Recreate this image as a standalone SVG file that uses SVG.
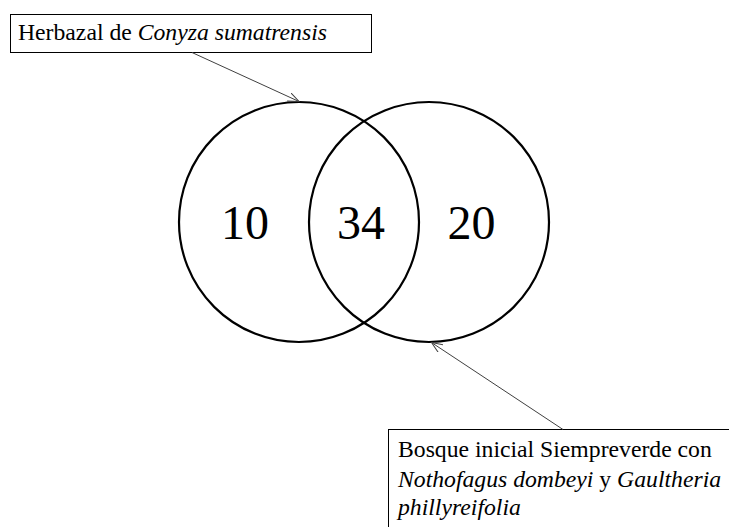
<svg xmlns="http://www.w3.org/2000/svg" width="729" height="527" viewBox="0 0 729 527">
<style>
.t{font-family:"Liberation Serif","Times New Roman","DejaVu Serif",serif;fill:#000}
.lbl{font-size:23.7px}
.num{font-size:48px;text-anchor:middle}
.circ{fill:none;stroke:#000;stroke-width:2.2}
.box{fill:#fff;stroke:#000;stroke-width:1}
.con{stroke:#404040;stroke-width:1;fill:none}
</style>
<defs>
<marker id="ah" markerWidth="12" markerHeight="10" refX="11" refY="5" orient="auto" markerUnits="userSpaceOnUse">
<path d="M0,0.5 L11,5 L0,9.5" fill="none" stroke="#404040" stroke-width="1"/>
</marker>
</defs>
<g id="set-a">
<circle class="circ" cx="299" cy="222" r="120"/>
<text class="t num" x="245" y="239">10</text>
</g>
<g id="set-b">
<circle class="circ" cx="429" cy="222" r="120"/>
<text class="t num" x="471.5" y="239">20</text>
</g>
<g id="intersection">
<text class="t num" x="361" y="239">34</text>
</g>
<g id="label-a">
<rect class="box" x="10.5" y="14.5" width="361" height="38"/>
<text class="t lbl" x="18" y="40">Herbazal de <tspan font-style="italic">Conyza sumatrensis</tspan></text>
</g>
<g id="label-b">
<rect class="box" x="388.5" y="429.5" width="345" height="105"/>
<text class="t lbl" x="398" y="456.5">Bosque inicial Siempreverde con</text>
<text class="t lbl" x="398" y="486.5"><tspan font-style="italic">Nothofagus dombeyi</tspan> y <tspan font-style="italic">Gaultheria</tspan></text>
<text class="t lbl" x="398" y="515"><tspan font-style="italic">phillyreifolia</tspan></text>
</g>
<g id="connectors">
<line class="con" x1="192" y1="52.5" x2="299" y2="101.5" marker-end="url(#ah)"/>
<line class="con" x1="563" y1="429.5" x2="431.5" y2="342.5" marker-end="url(#ah)"/>
</g>
</svg>
